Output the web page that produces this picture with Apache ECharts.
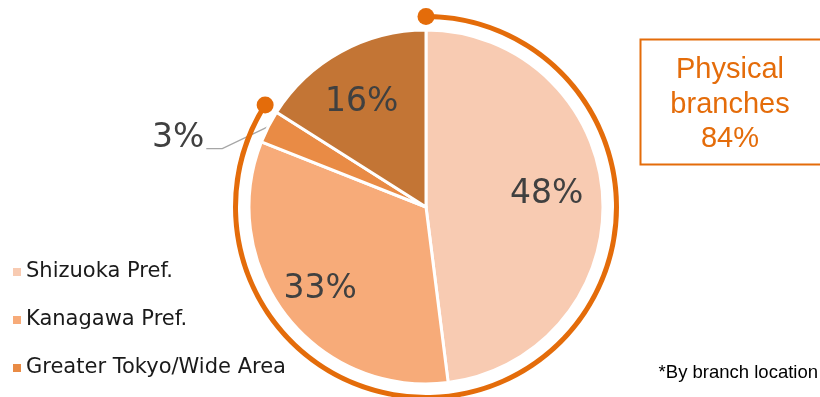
<!DOCTYPE html>
<html>
<head>
<meta charset="utf-8">
<script src="https://cdn.jsdelivr.net/npm/echarts@6/dist/echarts.min.js"></script>
<style>
html,body{margin:0;padding:0;background:#fff;}
#chart{width:820px;height:397px;}
</style>
</head>
<body>
<div id="chart"></div>
<script>
// Data
const categories = ['Shizuoka Pref.', 'Kanagawa Pref.', 'Greater Tokyo/Wide Area', 'Other'];
const shares = [48, 33, 3, 16];
const legendNames = ['Shizuoka Pref.', 'Kanagawa Pref.', 'Greater Tokyo/Wide Area'];
const sliceColors = ['#F8CBB2', '#F7AB79', '#E98B45', '#C37535'];
const physicalShare = 84;
const boxLines = ['Physical', 'branches', physicalShare + '%'];
const noteText = '*By branch location';

const accent = '#E46C0A';
const center = [426, 207];
const labelFont = {fontFamily: 'DejaVu Sans', fontSize: 33, color: '#404040'};
// small hand-tuned label nudges (styling only)
const labelNudge = {'Shizuoka Pref.': [-4, -5], 'Kanagawa Pref.': [-7, 6], 'Other': [-4, 5]};

const chart = echarts.init(document.getElementById('chart'), null, {renderer: 'canvas'});

const pieData = categories.map((c, i) => {
  const d = {name: c, value: shares[i], itemStyle: {color: sliceColors[i]}};
  if (shares[i] < 5) {
    d.label = {position: 'outside', show: true};
    d.labelLine = {show: true, lineStyle: {color: '#A6A6A6', width: 1.3}};
  } else {
    d.label = {show: false};
    d.labelLine = {show: false};
  }
  return d;
});

const innerLabelData = categories.map((c, i) => ({
  name: c,
  value: shares[i],
  itemStyle: {color: 'rgba(0,0,0,0)'},
  label: {show: shares[i] >= 5, offset: labelNudge[c] || [0, 0]}
}));

const option = {
  animation: false,
  backgroundColor: '#ffffff',
  polar: {center: center, radius: 190.5},
  angleAxis: {type: 'value', min: 0, max: 100, startAngle: 90, clockwise: true, show: false},
  radiusAxis: {type: 'value', min: 0, max: 1, show: false},
  legend: {
    data: legendNames,
    orient: 'vertical',
    left: 6,
    top: 256,
    icon: 'rect',
    itemWidth: 10,
    itemHeight: 10,
    itemGap: 26,
    selectedMode: false,
    textStyle: {fontFamily: 'DejaVu Sans', fontSize: 21, color: '#1a1a1a', lineHeight: 22, padding: [0, 0, 0, -1]}
  },
  series: [
    {
      type: 'pie',
      center: center,
      radius: [0, 177],
      startAngle: 90,
      clockwise: true,
      avoidLabelOverlap: false,
      itemStyle: {borderColor: '#ffffff', borderWidth: 3},
      label: Object.assign({formatter: '{c}%'}, labelFont),
      labelLine: {length: 20, length2: 15},
      labelLayout: function (params) {
        if (params.dataIndex === 2 && params.labelLinePoints) {
          const p0 = params.labelLinePoints[0];
          const p1 = [p0[0] - 46, p0[1] + 22];
          const p2 = [p1[0] - 16, p1[1]];
          return {
            x: p2[0] - 2,
            y: p2[1] - 10,
            align: 'right',
            verticalAlign: 'middle',
            labelLinePoints: [p0, p1, p2]
          };
        }
        return {};
      },
      emphasis: {disabled: true},
      data: pieData
    },
    {
      type: 'pie',
      center: center,
      radius: [67, 177],
      startAngle: 90,
      clockwise: true,
      silent: true,
      z: 3,
      itemStyle: {borderWidth: 0},
      label: Object.assign({position: 'inside', formatter: '{c}%'}, labelFont),
      labelLine: {show: false},
      emphasis: {disabled: true},
      data: innerLabelData
    },
    {
      type: 'pie',
      center: center,
      radius: [188, 193],
      startAngle: 90,
      clockwise: true,
      silent: true,
      label: {show: false},
      labelLine: {show: false},
      itemStyle: {borderWidth: 0},
      emphasis: {disabled: true},
      data: [
        {name: 'physical', value: physicalShare, itemStyle: {color: accent}},
        {name: 'rest', value: 100 - physicalShare, itemStyle: {color: 'rgba(0,0,0,0)'}}
      ]
    },
    {
      type: 'scatter',
      coordinateSystem: 'polar',
      symbol: 'circle',
      symbolSize: 17,
      silent: true,
      z: 10,
      itemStyle: {color: accent, opacity: 1},
      data: [[1, 0], [1, physicalShare]]
    }
  ],
  graphic: [
    {
      type: 'rect',
      left: 638,
      top: 37,
      shape: {width: 190, height: 125},
      style: {fill: 'none', stroke: accent, lineWidth: 2}
    },
    {
      type: 'text',
      x: 730,
      y: 53,
      style: {
        text: boxLines.join('\n'),
        align: 'center',
        verticalAlign: 'top',
        font: '29px "Liberation Sans"',
        lineHeight: 34.5,
        fill: accent
      }
    },
    {
      type: 'text',
      right: 2,
      top: 363,
      style: {text: noteText, font: '18.5px "Liberation Sans"', fill: '#000000'}
    }
  ]
};

chart.setOption(option);
</script>
</body>
</html>
